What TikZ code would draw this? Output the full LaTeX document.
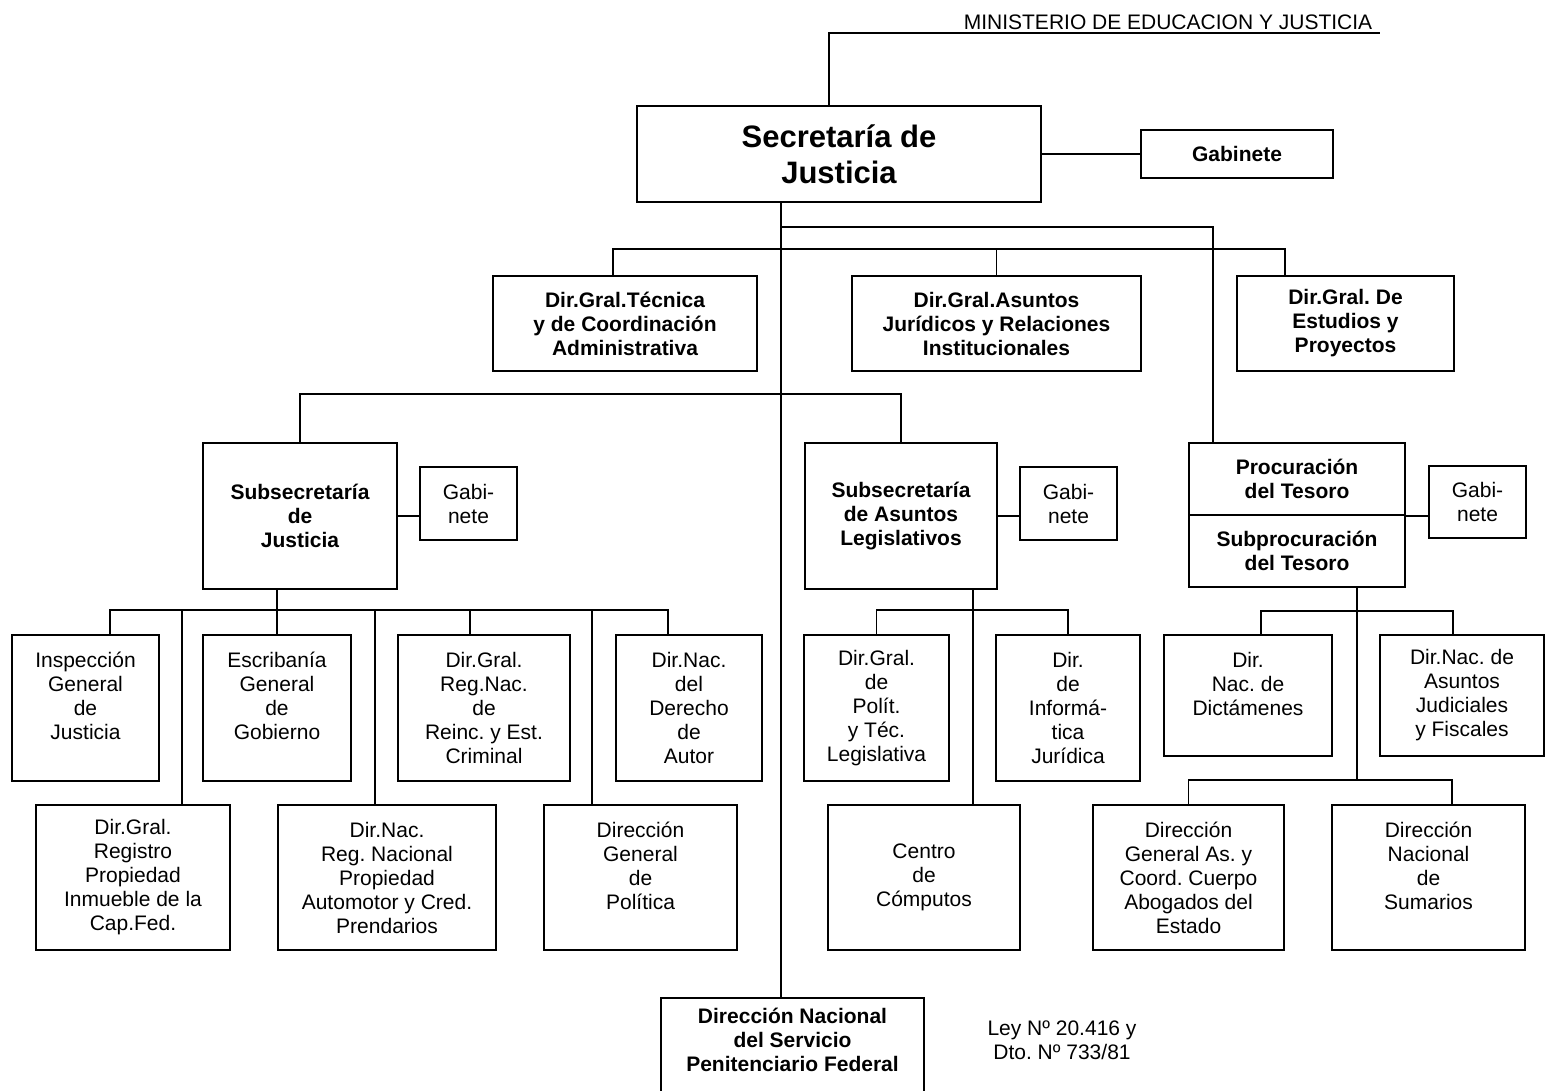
\documentclass[tikz,border=0pt]{standalone}
\usepackage{fontspec}
\setmainfont{Liberation Sans}
\frenchspacing
\begin{document}
\begin{tikzpicture}[x = 1pt, y = -1pt,
    unit/.style = {draw, line width = 1.8pt, align = center, inner sep = 2pt,
        font = \fontsize{21}{24}\selectfont},
    head/.style = {unit, font = \fontsize{21}{24}\selectfont\bfseries},
    size/.style 2 args = {minimum width = #1pt, minimum height = #2pt},
    link/.style = {line width = 1.4pt}]

    \def\width  {1546}
    \def\height {1090}

    % page
    \path [fill = white] (0, 0) rectangle (\width, \height);
    \useasboundingbox (0, 0) rectangle (\width, \height);

    % ministry
    \node [font = \fontsize{21}{24}\selectfont] (ministerio) at (1168, 22.5) {MINISTERIO DE EDUCACION Y JUSTICIA};
    \coordinate (underline) at (1380, 33);

    % secretary
    \node [unit, size = {404}{96}, font = \fontsize{31}{36}\selectfont\bfseries] (sec) at (839, 154) {Secretaría de\\Justicia};
    \node [head, size = {192}{48}] (gab) at (1237, 154) {Gabinete};

    % general directions
    \node [head, size = {264}{95}] (tec) at (625, 323.5) {Dir.Gral.Técnica\\y de Coordinación\\Administrativa};
    \node [head, size = {289}{95}] (asu) at (996.5, 323.5) {Dir.Gral.Asuntos\\Jurídicos y Relaciones\\Institucionales};
    \node [head, size = {217}{95}] (est) at (1345.5, 323.5) {Dir.Gral. De\\Estudios y\\Proyectos};

    % undersecretaries
    \node [head, size = {194}{146}] (ssj) at (300, 516) {Subsecretaría\\de\\Justicia};
    \node [unit, size = {97}{73}] (gj) at (468.5, 503.5) {Gabi-\\nete};
    \node [head, size = {192}{146}] (ssl) at (901, 516) {Subsecretaría\\de Asuntos\\Legislativos};
    \node [unit, size = {97}{73}] (gl) at (1068.5, 503.5) {Gabi-\\nete};
    \node [head, size = {216}{72}] (pro) at (1297, 479) {Procuración\\del Tesoro};
    \node [head, size = {216}{72}] (subpro) at (1297, 551) {Subprocuración\\del Tesoro};
    \node [unit, size = {97}{72}] (gp) at (1477.5, 502) {Gabi-\\nete};

    % justice
    \node [unit, size = {147}{146}] (ins) at (85.5, 708) {Inspección\\General\\de\\Justicia\\\mbox{}};
    \node [unit, size = {148}{146}] (esc) at (277, 708) {Escribanía\\General\\de\\Gobierno\\\mbox{}};
    \node [unit, size = {172}{146}] (rei) at (484, 708) {Dir.Gral.\\Reg.Nac.\\de\\Reinc. y Est.\\Criminal};
    \node [unit, size = {146}{146}] (aut) at (689, 708) {Dir.Nac.\\del\\Derecho\\de\\Autor};
    \node [unit, size = {194}{145}] (reg) at (133, 877.5) {Dir.Gral.\\Registro\\Propiedad\\Inmueble de la\\Cap.Fed.};
    \node [unit, size = {218}{145}] (pren) at (387, 877.5) {Dir.Nac.\\Reg. Nacional\\Propiedad\\Automotor y Cred.\\Prendarios};
    \node [unit, size = {193}{145}] (pol) at (640.5, 877.5) {Dirección\\General\\de\\Política\\\mbox{}};

    % legislative affairs
    \node [unit, size = {145}{146}] (ptl) at (876.5, 708) {Dir.Gral.\\de\\Polít.\\y Téc.\\Legislativa};
    \node [unit, size = {144}{146}] (inf) at (1068, 708) {Dir.\\de\\Informá-\\tica\\Jurídica};
    \node [unit, size = {192}{145}] (cc) at (924, 877.5) {Centro\\de\\Cómputos};

    % treasury
    \node [unit, size = {168}{121}] (dic) at (1248, 695.5) {Dir.\\Nac. de\\Dictámenes\\\mbox{}};
    \node [unit, size = {164}{121}] (jud) at (1462, 695.5) {Dir.Nac. de\\Asuntos\\Judiciales\\y Fiscales};
    \node [unit, size = {191}{145}] (das) at (1188.5, 877.5) {Dirección\\General As. y\\Coord. Cuerpo\\Abogados del\\Estado};
    \node [unit, size = {193}{145}] (sum) at (1428.5, 877.5) {Dirección\\Nacional\\de\\Sumarios\\\mbox{}};

    % penitentiary
    \node [head, size = {263}{108}] (pen) at (792.5, 1052) {Dirección Nacional\\del Servicio\\Penitenciario Federal\\\mbox{}};
    \node [font = \fontsize{21}{24}\selectfont, align = center] (ley) at (1062, 1040) {Ley Nº 20.416 y\\Dto. Nº 733/81};

    % top links
    \draw [link] ([xshift = -10pt] sec.north) |- (underline);
    \draw [link] (sec.east) -- (gab.west);
    \draw [link] ([xshift = -58pt] sec.south) -- ([xshift = -11.5pt] pen.north);
    \draw [link] ([xshift = -58pt, yshift = -24pt] sec.south) -| ([xshift = -84pt] pro.north);
    \draw [link] ([xshift = -12pt] tec.north) -- ++(0, -26) -| ([xshift = -60.5pt] est.north);
    \draw [link] (asu.north) -- ++(0, -26);
    \draw [link] (ssj.north) -- ++(0, -48) -| (ssl.north);
    \draw [link] (ssj.east) -- (ssj.east -| gj.west);
    \draw [link] (ssl.east) -- (ssl.east -| gl.west);
    \draw [link] (pro.south east) -- (pro.south east -| gp.west);

    % justice links
    \draw [link] ([xshift = -23pt] ssj.south) -- (esc.north);
    \draw [link] ([xshift = 24.5pt] ins.north) -- ++(0, -24) -| ([xshift = -21pt] aut.north);
    \draw [link] ([xshift = -14pt] rei.north) -- ++(0, -24);
    \foreach \name/\dx in {reg/49, pren/-12, pol/-48.5}
        \draw [link] ([xshift = \dx pt] \name.north) -- ++(0, -194);

    % legislative links
    \draw [link] ([xshift = 72pt] ssl.south) -- ([xshift = 49pt] cc.north);
    \draw [link] (ptl.north) -- ++(0, -24) -| (inf.north);

    % treasury links
    \coordinate (lowbus) at ([yshift = 24pt] das.north);
    \draw [link] ([xshift = 13pt] dic.north) -- ++(0, -23) -| ([xshift = -9pt] jud.north);
    \draw [link] ([xshift = 60pt] subpro.south) |- (lowbus) -- (das.north);
    \draw [link] (lowbus) -| ([xshift = 23.5pt] sum.north);

\end{tikzpicture}
\end{document}
